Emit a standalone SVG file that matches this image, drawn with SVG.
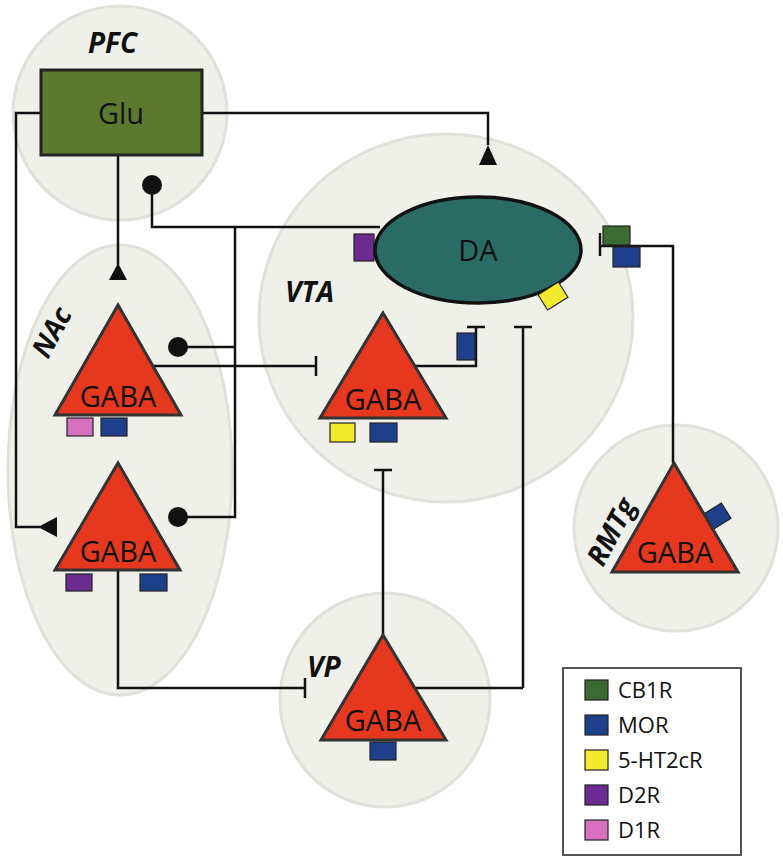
<svg xmlns="http://www.w3.org/2000/svg" width="783" height="858" viewBox="0 0 783 858">
<style>
.reg{fill:#f0f0eb;stroke:#e1e1db;stroke-width:3}
.lbl{font-family:"Open Sans","Liberation Sans",sans-serif;font-weight:bold;font-style:italic;font-size:28px;fill:#111}
.tx{font-family:"Open Sans","Liberation Sans",sans-serif;font-size:29px;fill:#111;text-anchor:middle}
.gaba{fill:#e5381f;stroke:#333;stroke-width:3;stroke-linejoin:miter}
.w{fill:none;stroke:#111;stroke-width:2.5}
.r{stroke:#222;stroke-width:1.2}
.mor{fill:#1e3f8a}.d1{fill:#d870c0}.d2{fill:#6b2b90}.ht{fill:#f2ea2a}.cb{fill:#3b6b31}
.lg{font-family:"Open Sans","Liberation Sans",sans-serif;font-size:22px;fill:#111}
</style>
<rect width="783" height="858" fill="#fff"/>
<g id="regions">
<circle class="reg" cx="120" cy="113" r="107"/>
<ellipse class="reg" cx="446" cy="318" rx="187" ry="184"/>
<ellipse class="reg" cx="120" cy="470" rx="112" ry="225"/>
<ellipse class="reg" cx="385" cy="700" rx="105" ry="107"/>
<ellipse class="reg" cx="676" cy="528" rx="102" ry="103"/>
<text class="lbl" x="88" y="53">PFC</text>
<text class="lbl" x="285" y="302">VTA</text>
<text class="lbl" x="307" y="677">VP</text>
<text class="lbl" transform="translate(48,360) rotate(-62)">NAc</text>
<text class="lbl" transform="translate(603,568) rotate(-62)">RMTg</text>
</g>
<g id="connectors">
<path class="w" d="M41,113 H16 V527 H40"/>
<path d="M38,527 L57,517 L57,537 Z" fill="#111"/>
<path class="w" d="M202,113 H488 V145"/>
<path d="M488,145 L479,165 L497,165 Z" fill="#111"/>
<path class="w" d="M118,155 V265"/>
<path d="M118,263 L109,280 L127,280 Z" fill="#111"/>
<path class="w" d="M152,185 V227 H380 M235,227 V517 H178 M235,347 H178"/>
<circle cx="152" cy="185" r="10" fill="#111"/>
<circle cx="178" cy="347" r="10" fill="#111"/>
<circle cx="178" cy="517" r="10" fill="#111"/>
<path class="w" d="M150,366 H316 M316,356 V376"/>
<path class="w" d="M415,366 H476 V327 M467,327 H485"/>
<path class="w" d="M523,688 V327 M514,327 H532 M414,688 H523"/>
<path class="w" d="M600,233 V256 M600,246 H673 V463"/>
<path class="w" d="M383,635 V470 M374,470 H392"/>
<path class="w" d="M118,570 V688 H305 M305,678 V698"/>
</g>
<g id="pfc-glu">
<rect x="41" y="70" width="161" height="85" fill="#5b7a2e" stroke="#222" stroke-width="3"/>
<text class="tx" x="121" y="124">Glu</text>
</g>
<g id="vta-da">
<rect class="r d2" x="354" y="234" width="20" height="27"/>
<ellipse cx="478" cy="250" rx="103" ry="53" fill="#2a6b66" stroke="#111" stroke-width="3.5"/>
<text class="tx" x="478" y="261">DA</text>
<rect class="r cb" x="603" y="226" width="27" height="19"/>
<rect class="r mor" x="613" y="247" width="27" height="20"/>
<rect class="r ht" x="-12" y="-9" width="24" height="18" transform="translate(553,296) rotate(-32)"/>
</g>
<g id="vta-gaba">
<path class="gaba" d="M383,313 L446,418 L320,418 Z"/>
<text class="tx" x="383" y="410">GABA</text>
<rect class="r ht" x="330" y="423" width="25" height="19"/>
<rect class="r mor" x="370" y="423" width="27" height="19"/>
<rect class="r mor" x="457" y="333" width="18" height="27"/>
</g>
<g id="nac-gaba-1">
<path class="gaba" d="M118,305 L181,415 L55,415 Z"/>
<text class="tx" x="118" y="407">GABA</text>
<rect class="r d1" x="67" y="418" width="26" height="18"/>
<rect class="r mor" x="101" y="418" width="26" height="18"/>
</g>
<g id="nac-gaba-2">
<path class="gaba" d="M118,463 L180,570 L55,570 Z"/>
<text class="tx" x="118" y="562">GABA</text>
<rect class="r d2" x="66" y="574" width="26" height="17"/>
<rect class="r mor" x="140" y="574" width="27" height="17"/>
</g>
<g id="vp-gaba">
<path class="gaba" d="M383,635 L446,740 L321,740 Z"/>
<text class="tx" x="383" y="731">GABA</text>
<rect class="r mor" x="370" y="742" width="26" height="18"/>
</g>
<g id="rmtg-gaba">
<rect class="r mor" x="-12" y="-9" width="24" height="18" transform="translate(716,517) rotate(-32)"/>
<path class="gaba" d="M674,463 L738,572 L612,572 Z"/>
<text class="tx" x="675" y="563">GABA</text>
</g>
<g id="legend">
<rect x="563" y="668" width="178" height="187" fill="#fff" stroke="#555" stroke-width="2"/>
<rect class="r cb" x="585" y="680" width="23" height="20"/>
<rect class="r mor" x="585" y="715" width="23" height="20"/>
<rect class="r ht" x="585" y="750" width="23" height="20"/>
<rect class="r d2" x="585" y="785" width="23" height="20"/>
<rect class="r d1" x="585" y="820" width="23" height="20"/>
<text class="lg" x="618" y="698">CB1R</text>
<text class="lg" x="618" y="733">MOR</text>
<text class="lg" x="618" y="768">5-HT2cR</text>
<text class="lg" x="618" y="803">D2R</text>
<text class="lg" x="618" y="838">D1R</text>
</g>
</svg>
